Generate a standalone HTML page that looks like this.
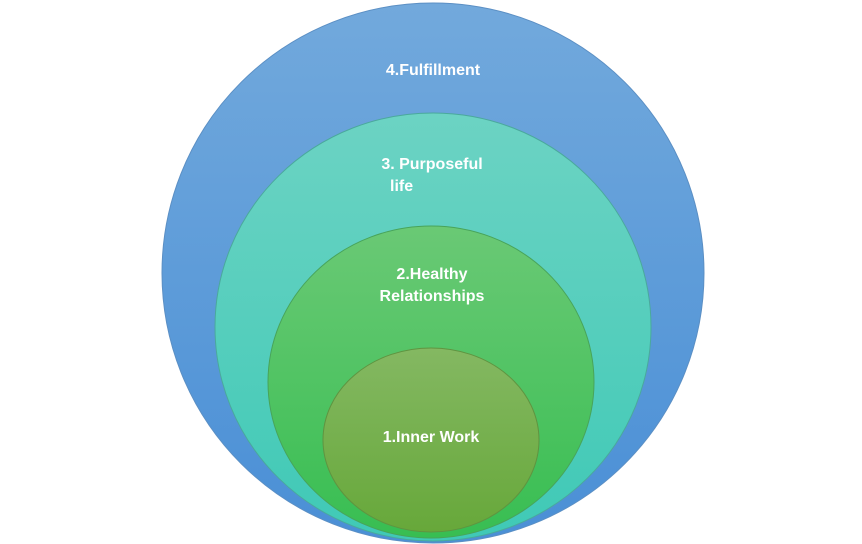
<!DOCTYPE html>
<html><head><style>
html,body{margin:0;padding:0;background:#fff;}
svg{display:block}
text{font-family:"Liberation Sans",sans-serif;font-weight:bold;fill:#fff;font-size:16px;}
</style></head><body>
<svg width="862" height="544" viewBox="0 0 862 544">
<defs>
<linearGradient id="g4" x1="0" y1="0" x2="0" y2="1"><stop offset="0" stop-color="#72a9dc"/><stop offset="1" stop-color="#4a8fd6"/></linearGradient>
<linearGradient id="g3" x1="0" y1="0" x2="0" y2="1"><stop offset="0" stop-color="#6cd3c3"/><stop offset="1" stop-color="#3fc9b6"/></linearGradient>
<linearGradient id="g2" x1="0" y1="0" x2="0" y2="1"><stop offset="0" stop-color="#6ac975"/><stop offset="1" stop-color="#38be52"/></linearGradient>
<linearGradient id="g1" x1="0" y1="0" x2="0" y2="1"><stop offset="0" stop-color="#84b862"/><stop offset="1" stop-color="#67a83a"/></linearGradient>
</defs>
<ellipse cx="433" cy="273" rx="271" ry="270" fill="url(#g4)" stroke="#5b8fc4" stroke-width="1"/>
<ellipse cx="433" cy="327" rx="218" ry="214" fill="url(#g3)" stroke="#4aa99c" stroke-width="1"/>
<ellipse cx="431" cy="382" rx="163" ry="156" fill="url(#g2)" stroke="#48a45a" stroke-width="1"/>
<ellipse cx="431" cy="440" rx="108" ry="92" fill="url(#g1)" stroke="#5f9440" stroke-width="1"/>
<text x="433" y="75" text-anchor="middle">4.Fulfillment</text>
<text x="432" y="169" text-anchor="middle">3. Purposeful</text>
<text x="390" y="191">life</text>
<text x="432" y="279" text-anchor="middle">2.Healthy</text>
<text x="432" y="301" text-anchor="middle">Relationships</text>
<text x="431" y="442" text-anchor="middle">1.Inner Work</text>
</svg>
</body></html>
